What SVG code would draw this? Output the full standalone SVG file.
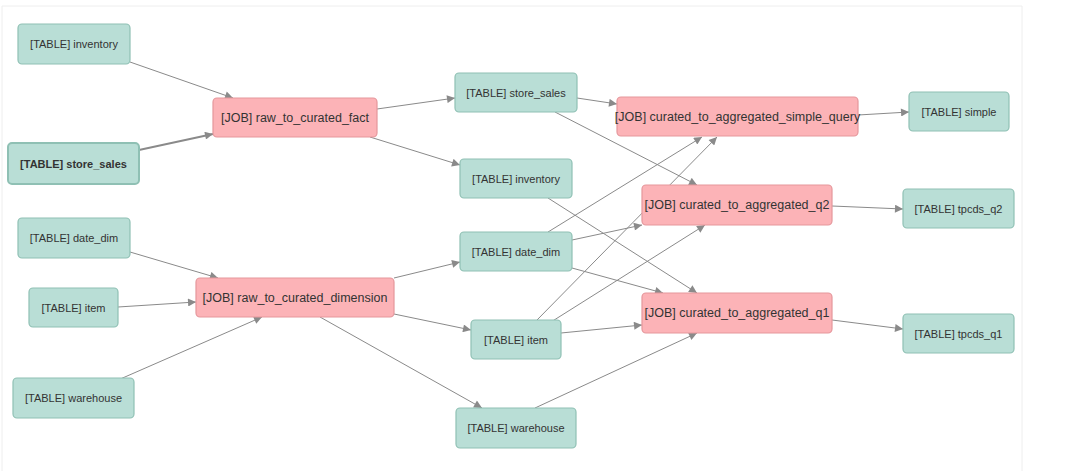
<svg xmlns="http://www.w3.org/2000/svg" width="1068" height="471" viewBox="0 0 1068 471">
<style>
.t rect{fill:#b9ded6;stroke:#8fc0b4;stroke-width:1.2}
.j rect{fill:#fcb3b7;stroke:#e5979c;stroke-width:1.2}
text{font-family:"Liberation Sans",Arial,sans-serif;font-size:11px;fill:#333;text-anchor:middle;dominant-baseline:central}
.j text{font-size:12.5px}
#edges line{stroke:#8a8a8a;stroke-width:1;marker-end:url(#a)}
</style>
<defs><marker id="a" viewBox="0 0 10 10" refX="10" refY="5" markerWidth="10" markerHeight="8" markerUnits="userSpaceOnUse" orient="auto"><path d="M0,0L10,5L0,10z" fill="#8a8a8a"/></marker></defs>
<rect x="0" y="0" width="1068" height="471" fill="#fff"/>
<path d="M2,471V6H1022V471" fill="none" stroke="#eee"/>
<g id="edges">
<line x1="130" y1="62" x2="233" y2="98"/>
<line x1="139" y1="150" x2="213" y2="134" style="stroke-width:2"/>
<line x1="130" y1="252" x2="218" y2="278"/>
<line x1="118" y1="307" x2="196" y2="302"/>
<line x1="118" y1="380" x2="262" y2="317"/>
<line x1="377" y1="109" x2="455" y2="98"/>
<line x1="370" y1="137" x2="460" y2="165"/>
<line x1="394" y1="278" x2="460" y2="262"/>
<line x1="394" y1="314" x2="471" y2="330"/>
<line x1="320" y1="317" x2="482" y2="408"/>
<line x1="577" y1="98" x2="617" y2="104"/>
<line x1="555" y1="112" x2="697" y2="185"/>
<line x1="548" y1="198" x2="697" y2="293"/>
<line x1="548" y1="232" x2="702" y2="137"/>
<line x1="572" y1="240" x2="642" y2="225"/>
<line x1="572" y1="268" x2="663" y2="293"/>
<line x1="537" y1="320" x2="717" y2="137"/>
<line x1="551" y1="322" x2="705" y2="225"/>
<line x1="561" y1="333" x2="642" y2="325"/>
<line x1="535" y1="408" x2="697" y2="333"/>
<line x1="858" y1="115" x2="909" y2="112"/>
<line x1="832" y1="206" x2="903" y2="209"/>
<line x1="832" y1="320" x2="903" y2="329"/>
</g>
<g id="n_inv_l" class="t"><rect x="18" y="24" width="112" height="40" rx="4"/><text x="74" y="44">[TABLE] inventory</text></g>
<g id="n_ss_l" class="t"><rect x="8" y="143" width="131" height="41" rx="4" style="stroke-width:2"/><text x="73.5" y="163.5" style="font-weight:bold">[TABLE] store_sales</text></g>
<g id="n_dd_l" class="t"><rect x="18" y="218" width="112" height="40" rx="4"/><text x="74" y="238">[TABLE] date_dim</text></g>
<g id="n_item_l" class="t"><rect x="29" y="288" width="89" height="39" rx="4"/><text x="73.5" y="307.5">[TABLE] item</text></g>
<g id="n_wh_l" class="t"><rect x="13" y="378" width="121" height="40" rx="4"/><text x="73.5" y="398">[TABLE] warehouse</text></g>
<g id="j_fact" class="j"><rect x="213" y="98" width="164" height="39" rx="4"/><text x="295" y="117.5">[JOB] raw_to_curated_fact</text></g>
<g id="j_dim" class="j"><rect x="196" y="278" width="198" height="39" rx="4"/><text x="295" y="297.5">[JOB] raw_to_curated_dimension</text></g>
<g id="n_ss_m" class="t"><rect x="455" y="73" width="122" height="39" rx="4"/><text x="516" y="92.5">[TABLE] store_sales</text></g>
<g id="n_inv_m" class="t"><rect x="460" y="159" width="112" height="39" rx="4"/><text x="516" y="178.5">[TABLE] inventory</text></g>
<g id="n_dd_m" class="t"><rect x="460" y="232" width="112" height="39" rx="4"/><text x="516" y="251.5">[TABLE] date_dim</text></g>
<g id="n_item_m" class="t"><rect x="471" y="320" width="90" height="39" rx="4"/><text x="516" y="339.5">[TABLE] item</text></g>
<g id="n_wh_m" class="t"><rect x="456" y="408" width="120" height="40" rx="4"/><text x="516" y="428">[TABLE] warehouse</text></g>
<g id="j_simple" class="j"><rect x="617" y="97" width="241" height="39" rx="4"/><text x="737.5" y="116.5">[JOB] curated_to_aggregated_simple_query</text></g>
<g id="j_q2" class="j"><rect x="642" y="185" width="190" height="40" rx="4"/><text x="737" y="205">[JOB] curated_to_aggregated_q2</text></g>
<g id="j_q1" class="j"><rect x="642" y="293" width="190" height="40" rx="4"/><text x="737" y="313">[JOB] curated_to_aggregated_q1</text></g>
<g id="n_simple" class="t"><rect x="909" y="92" width="100" height="39" rx="4"/><text x="959" y="111.5">[TABLE] simple</text></g>
<g id="n_q2" class="t"><rect x="903" y="189" width="111" height="39" rx="4"/><text x="958.5" y="208.5">[TABLE] tpcds_q2</text></g>
<g id="n_q1" class="t"><rect x="903" y="314" width="111" height="39" rx="4"/><text x="958.5" y="333.5">[TABLE] tpcds_q1</text></g>
</svg>
